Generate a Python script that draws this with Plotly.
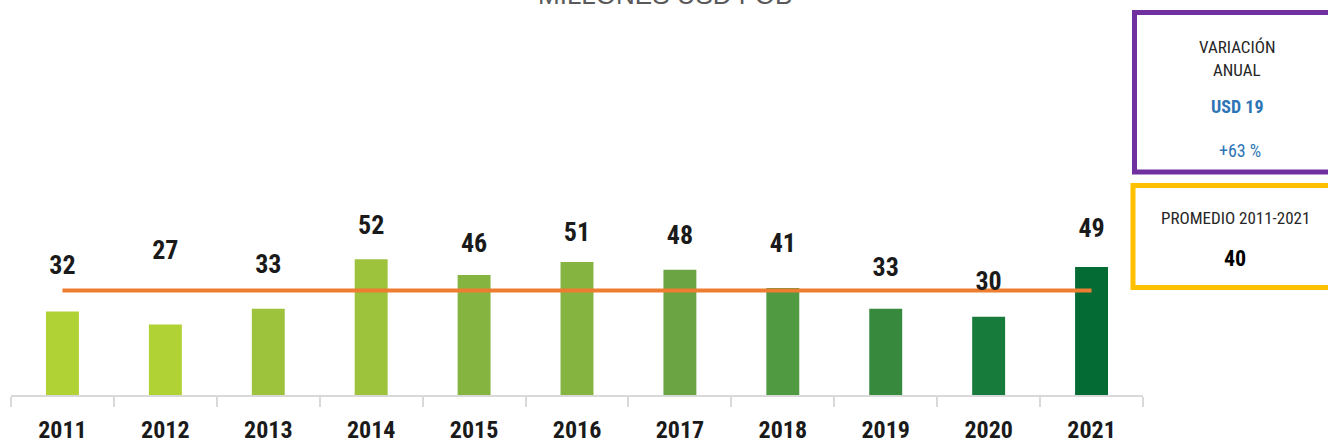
import plotly.graph_objects as go

# Export values, millions of USD FOB
years = ["2011", "2012", "2013", "2014", "2015", "2016", "2017", "2018", "2019", "2020", "2021"]
values = [32, 27, 33, 52, 46, 51, 48, 41, 33, 30, 49]
average_value = 40
variation_usd = 19
variation_pct = 63

# Styling
bar_colors = ["#B1D235", "#B1D235", "#9CC33B", "#9CC33B", "#86B441", "#86B441",
              "#6BA442", "#509A41", "#37893D", "#177B3B", "#046B35"]
label_lift = [44, 72, 42, 32, 29, 27, 32, 42, 39, 33, 37]  # px above bar top

W, H = 1328, 443
ML, MR, MT, MB = 11, 185, 30, 48
PW, PH = W - ML - MR, H - MT - MB
PX_PER_UNIT = 2.61

NARROW = "Liberation Sans Narrow, Roboto Condensed, DejaVu Sans Condensed, Roboto, sans-serif"


def px_x(px):
    return (px - ML) / PW


def px_y(py):
    return (H - MB - py) / PH


fig = go.Figure()

fig.add_trace(go.Bar(
    x=years, y=values, width=0.32,
    marker=dict(color=bar_colors, line=dict(width=0)),
    hoverinfo="x+y", showlegend=False,
))

fig.add_trace(go.Scatter(
    x=years, y=[average_value] * len(years), mode="lines",
    line=dict(color="#ED7D31", width=4), showlegend=False, hoverinfo="skip",
))

# Value labels floating above each bar
fig.add_trace(go.Scatter(
    x=years,
    y=[v + lift / PX_PER_UNIT for v, lift in zip(values, label_lift)],
    mode="text", text=[f"<b>{v}</b>" for v in values],
    textposition="middle center",
    textfont=dict(family=NARROW, size=26, color="#1A1A1A"),
    showlegend=False, hoverinfo="skip", cliponaxis=False,
))

annotations = []

# Chart title (partly above the visible area)
annotations.append(dict(
    x=px_x(665), y=px_y(12), xref="paper", yref="paper", text="MILLONES USD FOB",
    showarrow=False, xanchor="center", yanchor="bottom",
    font=dict(family="Liberation Sans, Arial, sans-serif", size=26, color="#595959"),
))

# Side boxes
box_text = [
    ("VARIACIÓN", 1237, 47, 17, "#262626", False),
    ("ANUAL", 1237, 70, 17, "#262626", False),
    (f"USD {variation_usd}", 1237, 106, 18, "#2E75B6", True),
    (f"+{variation_pct} %", 1240, 150, 18, "#2E75B6", False),
    (f"PROMEDIO {years[0]}-{years[-1]}", 1235, 218, 17, "#262626", False),
    (f"{average_value}", 1235, 258, 22, "#000000", True),
]
for txt, bx, by, sz, col, bold in box_text:
    annotations.append(dict(
        x=px_x(bx), y=px_y(by), xref="paper", yref="paper",
        text=f"<b>{txt}</b>" if bold else txt, showarrow=False,
        xanchor="center", yanchor="middle",
        font=dict(family=NARROW, size=sz, color=col),
    ))

shapes = [
    dict(type="rect", xref="paper", yref="paper",
         x0=px_x(1134.5), x1=px_x(1400), y0=px_y(172), y1=px_y(12.5),
         line=dict(color="#7030A0", width=5), fillcolor="rgba(0,0,0,0)", layer="above"),
    dict(type="rect", xref="paper", yref="paper",
         x0=px_x(1133), x1=px_x(1400), y0=px_y(287.5), y1=px_y(185.5),
         line=dict(color="#FFC000", width=5), fillcolor="rgba(0,0,0,0)", layer="above"),
]

fig.update_layout(
    width=W, height=H, autosize=False,
    margin=dict(l=ML, r=MR, t=MT, b=MB, pad=0, autoexpand=False),
    paper_bgcolor="white", plot_bgcolor="white",
    annotations=annotations, shapes=shapes,
    xaxis=dict(
        type="category", range=[-0.5, len(years) - 0.5], automargin=False,
        showgrid=False, zeroline=False,
        showline=True, linecolor="#D9D9D9", linewidth=2,
        ticks="outside", tickson="boundaries", ticklen=10, tickcolor="#D9D9D9", tickwidth=2,
        tickfont=dict(family=NARROW, size=24, color="#1A1A1A", weight="bold"),
        ticklabelstandoff=12,
    ),
    yaxis=dict(
        range=[0, PH / PX_PER_UNIT], automargin=False,
        showgrid=False, zeroline=False, showline=False, showticklabels=False, ticks="",
    ),
)

fig.write_html("out.html")
